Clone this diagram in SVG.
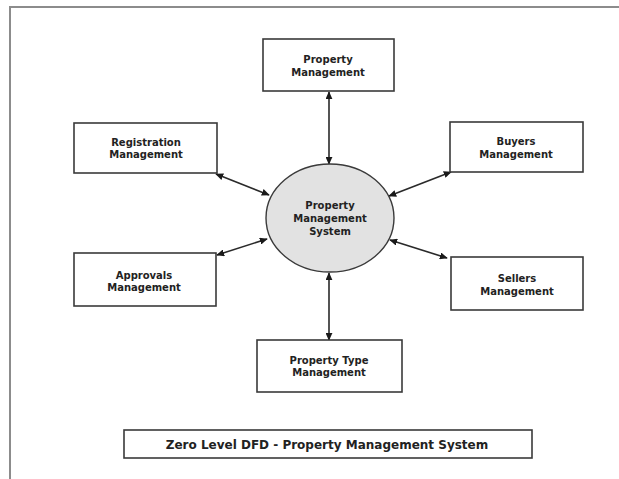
<svg xmlns="http://www.w3.org/2000/svg" width="619" height="479" viewBox="0 0 619 479">
<style>
.box{fill:#ffffff;stroke:#3a3a3a;stroke-width:1.6}
.lbl{font-family:"DejaVu Sans",Verdana,sans-serif;font-weight:bold;font-size:10px;fill:#222;text-anchor:middle}
.cap{font-family:"DejaVu Sans",Verdana,sans-serif;font-weight:bold;font-size:12px;fill:#222;text-anchor:middle}
.conn{stroke:#2a2a2a;stroke-width:1.6;fill:none;marker-start:url(#ah);marker-end:url(#ah)}
</style>
<defs>
<marker id="ah" viewBox="0 0 10 10" refX="9" refY="5" markerWidth="8" markerHeight="7" markerUnits="userSpaceOnUse" orient="auto-start-reverse" preserveAspectRatio="none">
<path d="M0,0 L10,5 L0,10 Z" fill="#1a1a1a"/>
</marker>
</defs>
<rect x="0" y="0" width="619" height="479" fill="#ffffff"/>
<rect x="10" y="7" width="620" height="480" fill="none" stroke="#8c8c8c" stroke-width="2"/>
<g id="connectors">
<line class="conn" x1="329" y1="92" x2="329" y2="164"/>
<line class="conn" x1="216" y1="174" x2="269" y2="195"/>
<line class="conn" x1="451" y1="172" x2="389" y2="196"/>
<line class="conn" x1="217" y1="255" x2="267" y2="239"/>
<line class="conn" x1="447" y1="258" x2="390" y2="240"/>
<line class="conn" x1="329" y1="273" x2="329" y2="340"/>
</g>
<g id="system">
<ellipse cx="330" cy="218" rx="64" ry="54" fill="#e2e2e2" stroke="#3a3a3a" stroke-width="1.4"/>
<text class="lbl" x="330" y="209">Property</text>
<text class="lbl" x="330" y="222">Management</text>
<text class="lbl" x="330" y="235">System</text>
</g>
<g id="property-management">
<rect class="box" x="263" y="39" width="131" height="52"/>
<text class="lbl" x="328" y="63">Property</text>
<text class="lbl" x="328" y="76">Management</text>
</g>
<g id="registration-management">
<rect class="box" x="74" y="123" width="143" height="50"/>
<text class="lbl" x="146" y="146">Registration</text>
<text class="lbl" x="146" y="158">Management</text>
</g>
<g id="buyers-management">
<rect class="box" x="450" y="122" width="133" height="50"/>
<text class="lbl" x="516" y="145">Buyers</text>
<text class="lbl" x="516" y="158">Management</text>
</g>
<g id="approvals-management">
<rect class="box" x="74" y="253" width="142" height="53"/>
<text class="lbl" x="144" y="279">Approvals</text>
<text class="lbl" x="144" y="291">Management</text>
</g>
<g id="sellers-management">
<rect class="box" x="451" y="257" width="132" height="53"/>
<text class="lbl" x="517" y="282">Sellers</text>
<text class="lbl" x="517" y="295">Management</text>
</g>
<g id="property-type-management">
<rect class="box" x="257" y="340" width="145" height="52"/>
<text class="lbl" x="329" y="364">Property Type</text>
<text class="lbl" x="329" y="376">Management</text>
</g>
<g id="caption">
<rect class="box" x="124" y="430" width="408" height="28" stroke="#555"/>
<text class="cap" x="327" y="449">Zero Level DFD - Property Management System</text>
</g>
</svg>
